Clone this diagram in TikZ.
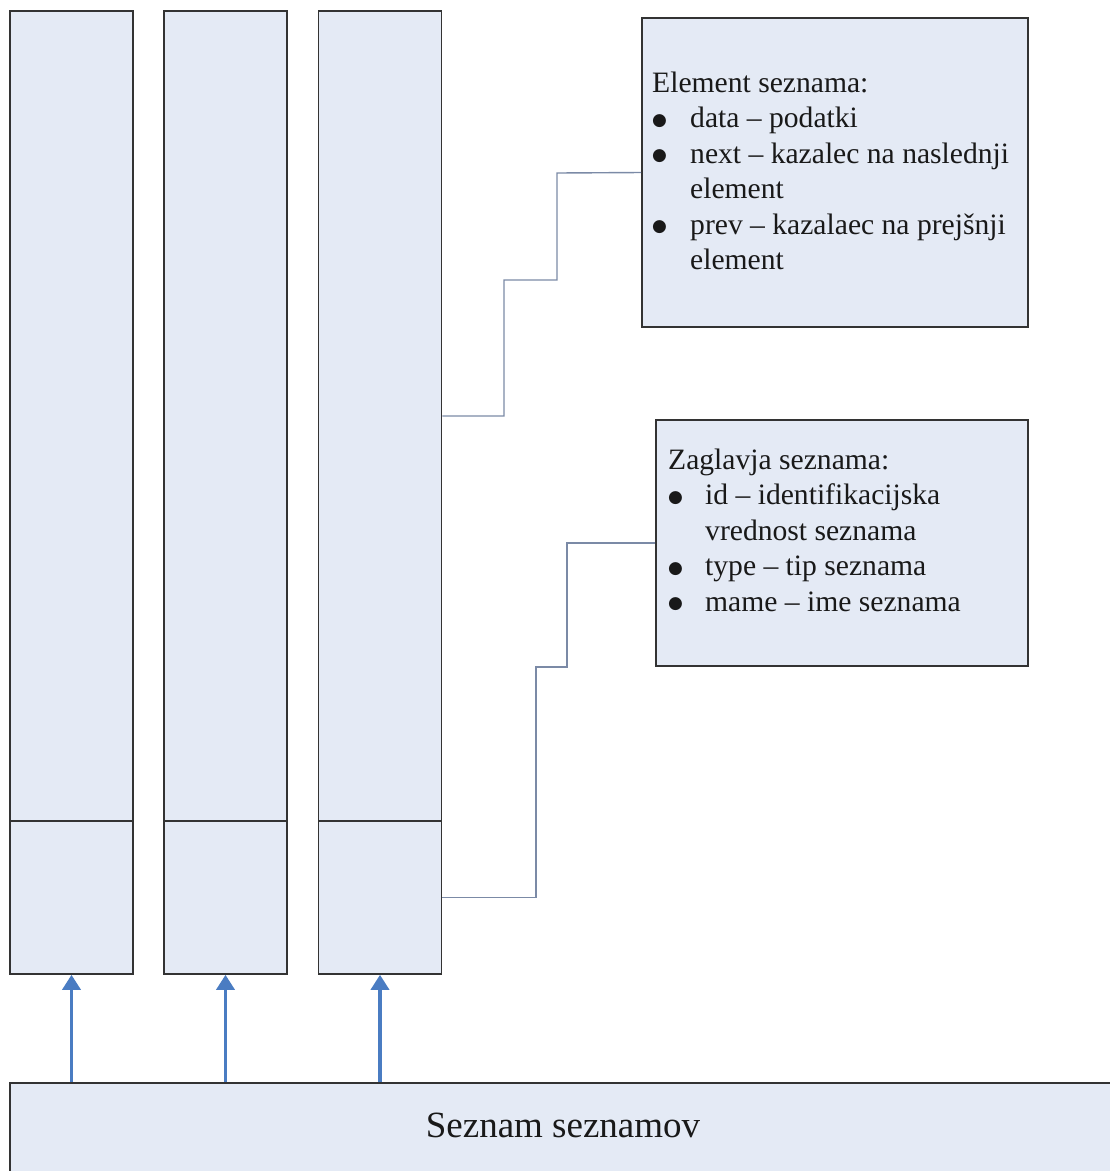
\documentclass[tikz,border=0pt]{standalone}
\usepackage{fontspec}
\setmainfont{Liberation Serif}
\newfontfamily\symfont{DejaVu Sans}
\usetikzlibrary{arrows.meta}

\definecolor{boxfill}{HTML}{E4EAF5}
\definecolor{edge}{HTML}{333333}
\definecolor{linkline}{HTML}{7B8AA6}
\definecolor{arrowblue}{HTML}{4A7CC2}

% round list bullet
\newcommand{\itemdot}{\raisebox{2.5pt}{\symfont\fontsize{17}{17}\selectfont ●}}

\begin{document}
\begin{tikzpicture}[x=1pt,y=-1pt,
  panel/.style={draw=edge, fill=boxfill, line width=1.6pt, inner sep=0pt, rectangle},
  upper/.style={panel, minimum width=123pt, minimum height=810pt},
  head/.style={panel, minimum width=123pt, minimum height=153pt},
  link/.style={draw=linkline, line width=1.4pt},
  arr/.style={draw=arrowblue, line width=3.5pt, -{Triangle[width=18pt,length=15pt]}},
  notes/.style={inner sep=0pt, anchor=base west, align=left, text=black!90,
    font=\fontsize{29.6}{35.5}\selectfont}
]
\useasboundingbox (0,0) rectangle (1110,1171);
\clip (0,0) rectangle (1110,1171);

% three lists: element area above, header below
\node[upper] (c1top) at (71.5,416) {};
\node[head]  (c1head) at (71.5,897.5) {};
\node[upper] (c2top) at (225.5,416) {};
\node[head]  (c2head) at (225.5,897.5) {};
\node[upper] (c3top) at (380,416) {};
\node[head]  (c3head) at (380,897.5) {};

% list of lists
\node[panel, minimum width=1106pt, minimum height=94pt] (list) at (563,1130) {};
\node[inner sep=0pt, anchor=base, text=black!90, font=\fontsize{37}{44}\selectfont] (listlabel) at (563,1137) {Seznam seznamov};

% description boxes
\node[panel, minimum width=386pt, minimum height=309pt] (box1) at (835,172.5) {};
\node[notes] (box1text) at (652,92) {\begin{tabular}[t]{@{}p{38pt}@{}l@{}}
\multicolumn{2}{@{}l@{}}{Element seznama:}\\
\itemdot & data – podatki\\
\itemdot & next – kazalec na naslednji\\
 & element\\
\itemdot & prev – kazalaec na prejšnji\\
 & element
\end{tabular}};

\node[panel, minimum width=372pt, minimum height=246pt] (box2) at (842,543) {};
\node[notes] (box2text) at (668,469) {\begin{tabular}[t]{@{}p{37pt}@{}l@{}}
\multicolumn{2}{@{}l@{}}{Zaglavja seznama:}\\
\itemdot & id – identifikacijska\\
 & vrednost seznama\\
\itemdot & type – tip seznama\\
\itemdot & mame – ime seznama
\end{tabular}};

% stepped callout lines
\coordinate (k1) at (504,280);
\coordinate (k2) at (557,173);
\coordinate (k3) at (536,667);
\coordinate (k4) at (567,543);
\draw[link] (c3top.east) -| (k1) -| (k2) -- (box1.west);
\draw[link] (c3head.east) -| (k3) -| (k4) -- (box2.west);

% pointers from the list of lists to each list
\draw[arr] (list.north -| c1head.south) -- (c1head.south);
\draw[arr] (list.north -| c2head.south) -- (c2head.south);
\draw[arr] (list.north -| c3head.south) -- (c3head.south);
\end{tikzpicture}
\end{document}
